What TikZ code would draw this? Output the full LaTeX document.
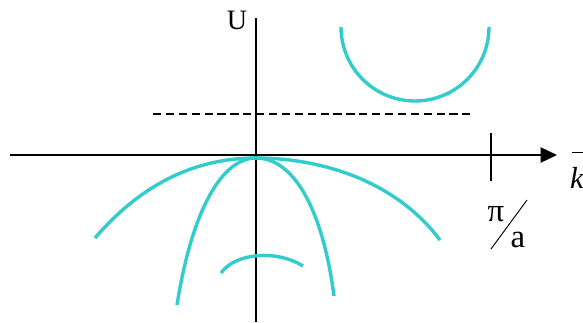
\documentclass[tikz,border=0pt]{standalone}
\usepackage{fontspec}
\setmainfont{Liberation Serif}
\usetikzlibrary{arrows.meta}
\definecolor{bandcol}{RGB}{51,204,204}
\tikzset{
  axisline/.style={line width=1.6pt},
  band/.style={bandcol, line width=2.9pt},
  lbl/.style={inner sep=0pt, font=\fontsize{24}{28}\selectfont}
}
\begin{document}
\begin{tikzpicture}[x=0.03cm,y=-0.03cm]
    \useasboundingbox (0,0) rectangle (583,322);
    % Ejes
    \draw[axisline,-{Triangle[length=14pt,width=13pt]}] (10,155) -- (557,155);
    \draw[axisline] (256,18) -- (256,322);
    \draw[axisline] (491,133) -- (491,181);
    \node[lbl] (ulabel) at (237,20) {U};
    \node[lbl, font=\fontsize{26}{30}\selectfont\itshape] (klabel) at (577,178) {k};
    \draw[line width=0.8pt] (572,152) -- (590,152);
    % Zona limite
    \node[lbl, font=\fontsize{28}{32}\selectfont] (pilabel) at (496,214) {π};
    \node[lbl, font=\fontsize{28}{32}\selectfont] (alabel) at (518,240) {a};
    \draw[line width=0.8pt] (491,249) -- (527,200);
    % Nivel
    \draw[line width=1.3pt, dash pattern=on 7pt off 4pt] (153,114) -- (470,114);
    % Bandas
    \draw[band] (341,27) arc[start angle=180, end angle=0, radius=74];
    \draw[band] (95,238) .. controls (145,180) and (200,158) .. (256,158)
        .. controls (320,158) and (395,180) .. (440,240);
    \draw[band] (177,305) .. controls (192,210) and (222,158) .. (256,158)
        .. controls (292,158) and (322,205) .. (334,296);
    \draw[band] (221,273) .. controls (236,252) and (278,250) .. (303,266);
\end{tikzpicture}
\end{document}
